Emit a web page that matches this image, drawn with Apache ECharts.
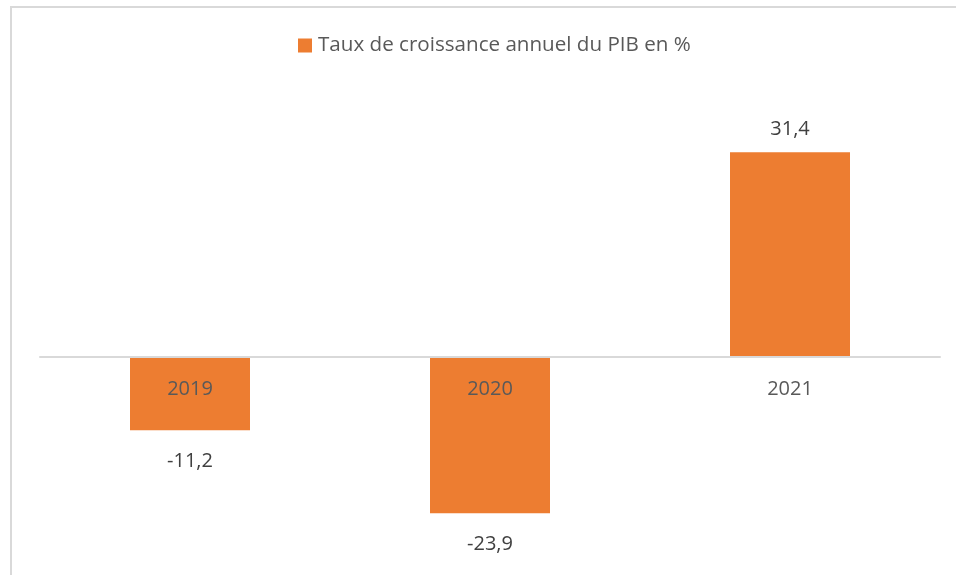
<!DOCTYPE html>
<html>
<head>
<meta charset="utf-8">
<script src="https://cdn.jsdelivr.net/npm/echarts@6/dist/echarts.min.js"></script>
<style>
  html, body { margin: 0; padding: 0; background: #fff; }
  #chart { width: 956px; height: 575px; }
</style>
</head>
<body>
<div id="chart"></div>
<script>
// data
const years = ['2019', '2020', '2021']
const growth = [-11.2, -23.9, 31.4]
const seriesName = 'Taux de croissance annuel du PIB en %'

const chart = echarts.init(document.getElementById('chart'))

const fmt = v => String(v).replace('.', ',')

const option = {
  backgroundColor: '#ffffff',
  textStyle: { fontFamily: 'Open Sans' },
  graphic: [
    {
      type: 'polyline',
      shape: { points: [[11, 575], [11, 7], [956, 7]] },
      style: { stroke: '#d9d9d9', lineWidth: 2, fill: null },
      silent: true
    }
  ],
  legend: {
    data: [seriesName],
    left: 298,
    top: 35,
    padding: 0,
    itemWidth: 14,
    itemHeight: 14,
    icon: 'rect',
    textStyle: { fontSize: 20.6, color: '#595959', fontFamily: 'Open Sans', padding: [0, 0, 0, 1] }
  },
  grid: {
    left: 40,
    right: 16,
    top: 96,
    bottom: 22,
    outerBoundsMode: 'none',
    containLabel: false
  },
  xAxis: {
    type: 'category',
    data: years,
    z: 5,
    position: 'bottom',
    // zero line sits 196px above the bottom of the grid (-30..0)
    offset: -196,
    axisLine: { onZero: false, lineStyle: { color: '#d9d9d9', width: 2 } },
    axisTick: { show: false },
    axisLabel: { fontSize: 20, color: '#595959', margin: 22, fontFamily: 'Open Sans' }
  },
  yAxis: {
    type: 'value',
    min: -30,
    max: 40,
    interval: 10,
    axisLine: { show: false },
    axisTick: { show: false },
    axisLabel: { show: false },
    splitLine: { show: false }
  },
  series: [
    {
      name: seriesName,
      type: 'bar',
      barCategoryGap: '60%',
      itemStyle: { color: '#ed7d31' },
      data: growth.map(v => ({
        value: v,
        label: {
          show: true,
          position: v < 0 ? 'bottom' : 'top',
          distance: v < 0 ? 21 : 13,
          formatter: p => fmt(p.value),
          fontSize: 20,
          color: '#404040',
          fontFamily: 'Open Sans'
        }
      }))
    }
  ]
}

chart.setOption(option)
</script>
</body>
</html>
